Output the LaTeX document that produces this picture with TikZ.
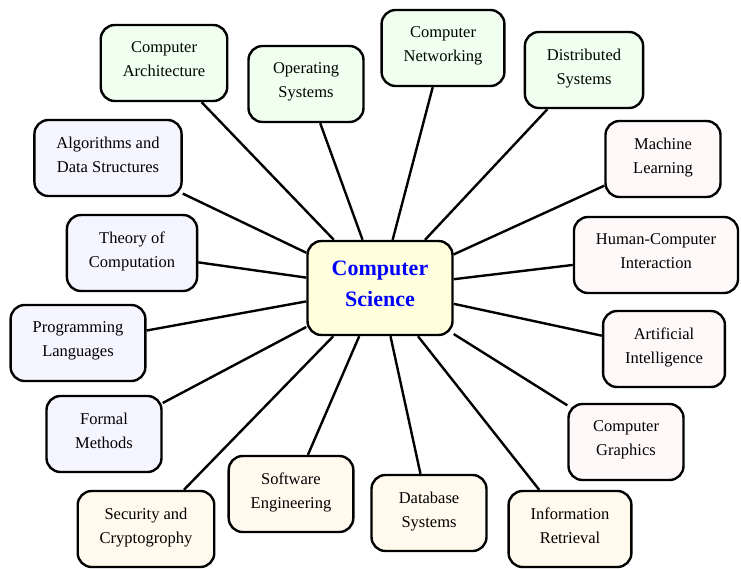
\documentclass[tikz,border=0pt]{standalone}
\usepackage{fontspec}
\setmainfont{Liberation Serif}
\definecolor{hubfill}{HTML}{FFFFDD}
\definecolor{hubtext}{HTML}{0000FF}
\definecolor{greenfill}{HTML}{F0FFF0}
\definecolor{pinkfill}{HTML}{FFF8F8}
\definecolor{creamfill}{HTML}{FFF9EE}
\definecolor{bluefill}{HTML}{F5F5FF}
\tikzset{
  topic/.style={draw=black, line width=2.4pt, rounded corners=14pt,
    minimum height=76pt, minimum width=115pt, inner xsep=22pt,
    text depth=7pt,
    align=center, font=\fontsize{16.5}{24}\selectfont},
  hub/.style={topic, fill=hubfill, text=hubtext, minimum width=145pt,
    minimum height=94pt, text depth=9pt,
    font=\fontsize{22}{31}\selectfont\bfseries},
  link/.style={line width=2.4pt, black}
}
\begin{document}
\begin{tikzpicture}[x=1pt,y=-1pt]
\useasboundingbox (0,0) rectangle (741,568);
% central topic
\node[hub] (cs) at (380,288) {Computer\\Science};
% surrounding fields
\node[topic, fill=greenfill] (arch) at (164,63) {Computer\\Architecture};
\node[topic, fill=greenfill] (os) at (306,84) {Operating\\Systems};
\node[topic, fill=greenfill] (net) at (443,48) {Computer\\Networking};
\node[topic, fill=greenfill] (dist) at (584,70) {Distributed\\Systems};
\node[topic, fill=pinkfill] (ml) at (663,159) {Machine\\Learning};
\node[topic, fill=pinkfill] (hci) at (656,255) {Human-Computer\\Interaction};
\node[topic, fill=pinkfill] (ai) at (664,349) {Artificial\\Intelligence};
\node[topic, fill=pinkfill] (gfx) at (626,442) {Computer\\Graphics};
\node[topic, fill=creamfill] (ir) at (570,529) {Information\\Retrieval};
\node[topic, fill=creamfill] (db) at (429,513) {Database\\Systems};
\node[topic, fill=creamfill] (se) at (291,494) {Software\\Engineering};
\node[topic, fill=creamfill] (sec) at (146,529) {Security and\\Cryptogrophy};
\node[topic, fill=bluefill] (fm) at (104,434) {Formal\\Methods};
\node[topic, fill=bluefill] (pl) at (78,343) {Programming\\Languages};
\node[topic, fill=bluefill] (toc) at (132,253) {Theory of\\Computation};
\node[topic, fill=bluefill] (algo) at (108,158) {Algorithms and\\Data Structures};
% spokes
\foreach \n in {arch,os,net,dist,ml,hci,ai,gfx,ir,db,se,sec,fm,pl,toc,algo}
  \draw[link] (cs) -- (\n);
\end{tikzpicture}
\end{document}
